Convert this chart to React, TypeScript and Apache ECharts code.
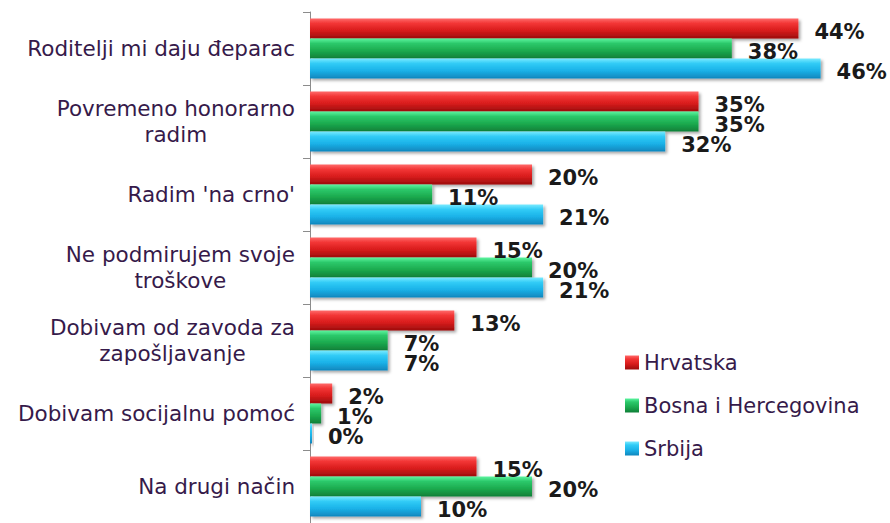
import React, { useEffect, useRef } from "react";
import * as echarts from "echarts";

const categories = [
  "Roditelji mi daju đeparac",
  "Povremeno honorarno\nradim",
  "Radim 'na crno'",
  "Ne podmirujem svoje\ntroškove",
  "Dobivam od zavoda za\nzapošljavanje",
  "Dobivam socijalnu pomoć",
  "Na drugi način",
];
const seriesNames = ["Hrvatska", "Bosna i Hercegovina", "Srbija"];
const hrvatska = [44, 35, 20, 15, 13, 2, 15];
const bih = [38, 35, 11, 20, 7, 1, 20];
const srbija = [46, 32, 21, 21, 7, 0, 10];

const FONT = "'DejaVu Sans', Verdana, sans-serif";

function grad(stops: [number, string][]) {
  return new echarts.graphic.LinearGradient(
    0, 0, 0, 1,
    stops.map(([offset, color]) => ({ offset, color }))
  );
}

const colors = [
  grad([[0, "#ff6a6a"], [0.25, "#f23434"], [0.6, "#d81c1c"], [1, "#9c0c0c"]]),
  grad([[0, "#5cf5a0"], [0.25, "#2cc86a"], [0.6, "#1cab4f"], [1, "#0f7f38"]]),
  grad([[0, "#7aeaff"], [0.25, "#30cbf6"], [0.6, "#1bb2e8"], [1, "#0f86bd"]]),
];

export default function App() {
  const ref = useRef<HTMLDivElement>(null);
  useEffect(() => {
    if (!ref.current) return;
    const chart = echarts.init(ref.current, undefined, { renderer: "svg" });
    const datas = [hrvatska, bih, srbija];
    chart.setOption({
      animation: false,
      backgroundColor: "#ffffff",
      grid: { left: 310, right: 25, top: 12, bottom: 0, containLabel: false },
      legend: {
        orient: "vertical",
        left: 620,
        top: 347,
        itemWidth: 14,
        itemHeight: 14,
        itemGap: 22,
        icon: "rect",
        data: seriesNames,
        textStyle: {
          fontFamily: FONT,
          fontSize: 21,
          lineHeight: 20,
          color: "#361a4a",
          padding: [0, 0, 0, 0],
        },
      },
      xAxis: {
        type: "value",
        min: 0,
        max: 50,
        show: false,
      },
      yAxis: {
        type: "category",
        inverse: true,
        data: categories,
        axisLine: { show: true, lineStyle: { color: "#8c8c8c", width: 1 } },
        axisTick: { show: true, length: 7, lineStyle: { color: "#8c8c8c" } },
        axisLabel: {
          margin: 15,
          align: "right",
          formatter: (v: string) =>
            v.split("\n").map((l) => `{c|${l}}`).join("\n"),
          rich: {
            c: {
              align: "center",
              fontFamily: FONT,
              fontSize: 21.5,
              lineHeight: 26,
              color: "#361a4a",
            },
          },
        },
      },
      series: seriesNames.map((name, i) => ({
        name,
        type: "bar",
        data: datas[i],
        barWidth: 20,
        barGap: "0%",
        barMinHeight: i === 2 ? 2 : 0,
        itemStyle: {
          color: colors[i],
          shadowBlur: 3,
          shadowColor: "rgba(0,0,0,0.35)",
          shadowOffsetX: 2,
          shadowOffsetY: 2,
        },
        label: {
          show: true,
          position: "right",
          distance: 16,
          offset: [0, 3],
          formatter: "{c}%",
          fontFamily: FONT,
          fontWeight: "bold",
          fontSize: 21,
          color: "#1a1a1a",
        },
      })),
    });
    return () => chart.dispose();
  }, []);
  return (
    <div
      ref={ref}
      style={{ position: "absolute", left: 0, top: 0, width: 890, height: 523 }}
    />
  );
}
